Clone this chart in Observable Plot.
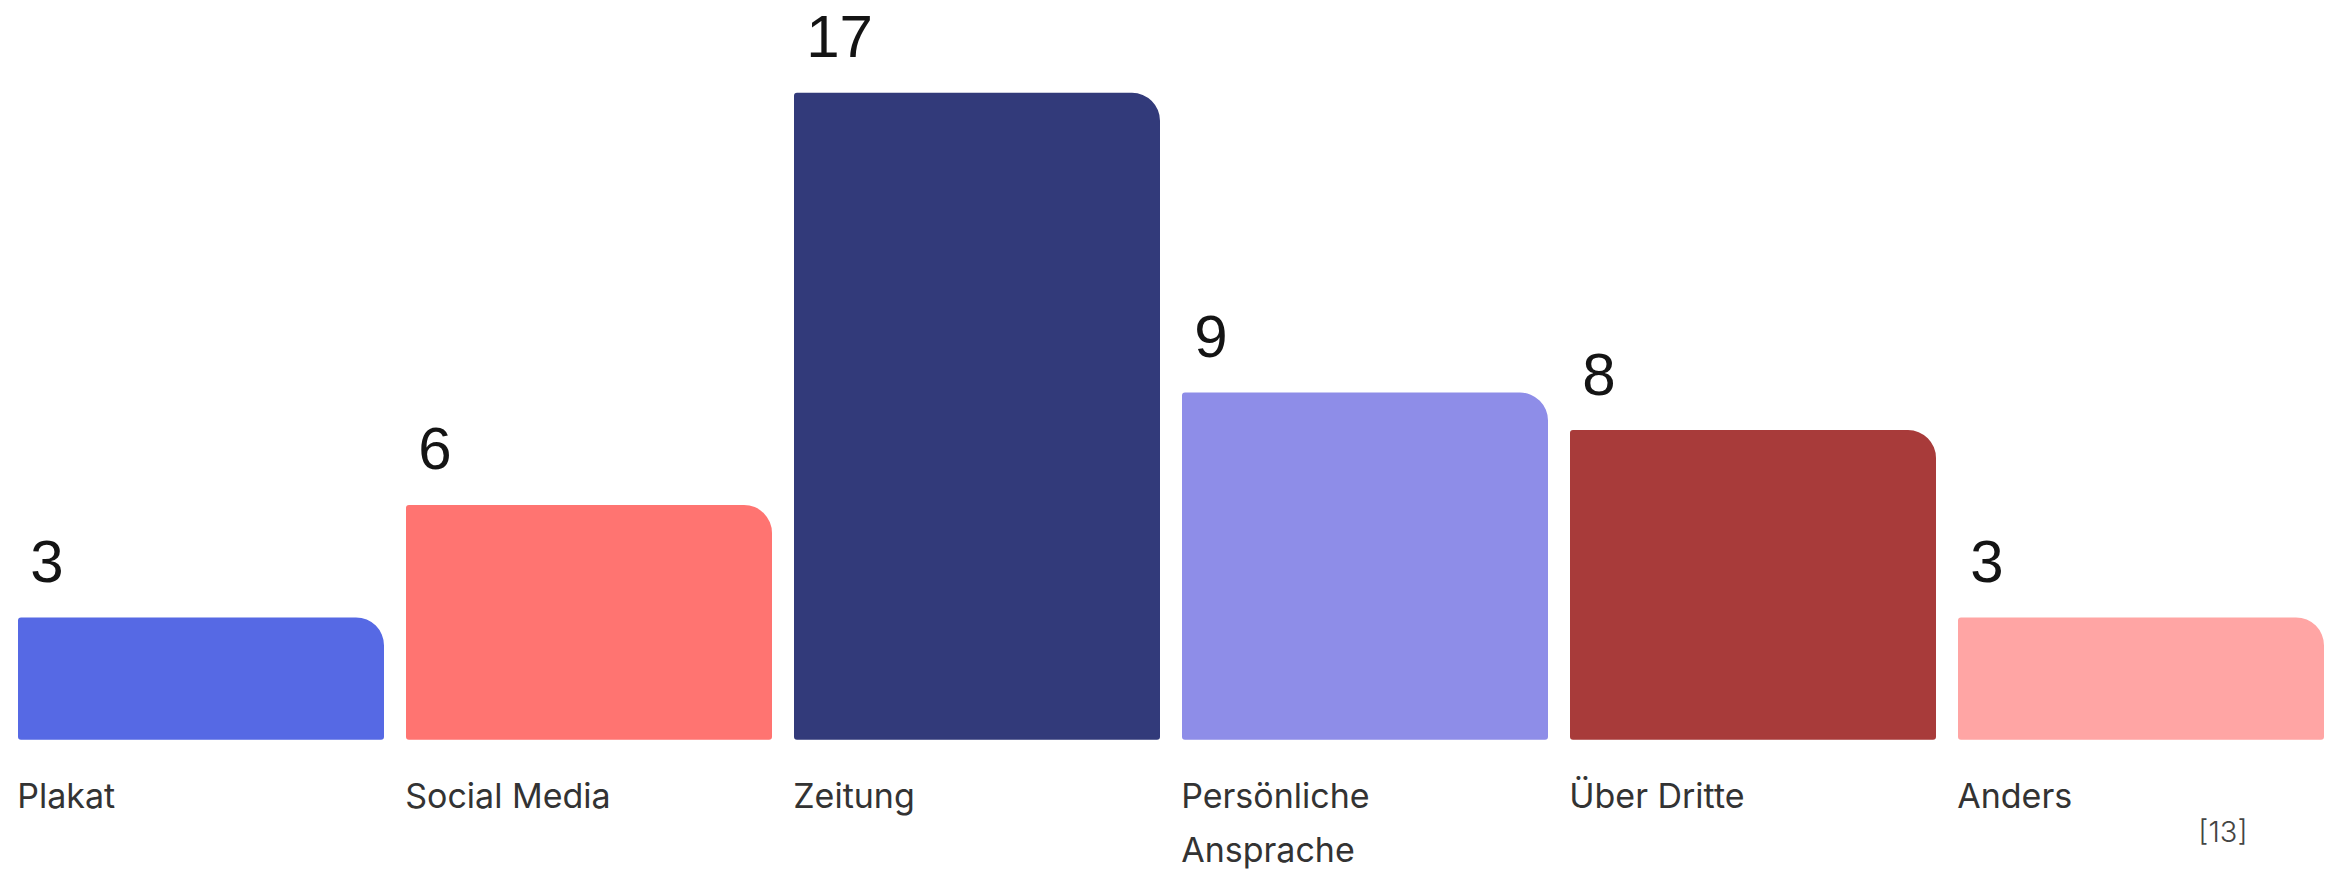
<!DOCTYPE html>
<html>
<head>
<meta charset="utf-8">
<script src="https://cdn.jsdelivr.net/npm/d3@7"></script>
<script src="https://cdn.jsdelivr.net/npm/@observablehq/plot@0.6"></script>
<style>
  html, body { margin: 0; padding: 0; background: #ffffff; }
  #chart svg { display: block; }
</style>
</head>
<body>
<div id="chart"></div>
<script>
const categories = ["Plakat", "Social Media", "Zeitung", "Persönliche Ansprache", "Über Dritte", "Anders"];
const counts = [3, 6, 17, 9, 8, 3];
const colors = ["#5669E4", "#FF7471", "#323A7A", "#8E8DE8", "#A83B3A", "#FFA5A4"];
const source = "[13]";

const data = categories.map((c, i) => ({category: c, count: counts[i]}));

const chart = Plot.plot({
  width: 2344,
  height: 869,
  marginTop: 92.8,
  marginBottom: 139.2,
  marginLeft: 5,
  marginRight: 7,
  style: {background: "#ffffff"},
  x: {domain: categories, padding: 0, axis: null},
  y: {domain: [0, 17], axis: null},
  color: {domain: categories, range: colors},
  marks: [
    Plot.barY(data, {
      x: "category",
      y: "count",
      fill: "category",
      insetLeft: 11,
      insetRight: 11,
      insetBottom: -10,
      r: 3,
      rx2y1: 28
    }),
    Plot.text(data, {
      x: "category",
      y: "count",
      text: d => String(d.count),
      textAnchor: "start",
      lineAnchor: "bottom",
      dx: -171.3,
      dy: -36,
      fontSize: 60,
      fontFamily: "Liberation Sans, Arial, sans-serif",
      fill: "#141414"
    }),
    Plot.axisX({
      anchor: "bottom",
      label: null,
      tickSize: 0,
      tickPadding: 0,
      textAnchor: "start",
      lineAnchor: "top",
      lineWidth: 9,
      lineHeight: 1.6,
      dx: -184.3,
      dy: 39,
      fontSize: 34,
      fontFamily: "Inter, Noto Sans, sans-serif",
      fill: "#333333",
      color: "#333333"
    }),
    Plot.text([source], {
      frameAnchor: "bottom-right",
      text: d => d,
      textAnchor: "end",
      dx: -90,
      dy: 112,
      fontSize: 29,
      fontWeight: 300,
      fontFamily: "Inter, Noto Sans, sans-serif",
      fill: "#444444"
    })
  ]
});
document.getElementById("chart").appendChild(chart);
</script>
</body>
</html>
